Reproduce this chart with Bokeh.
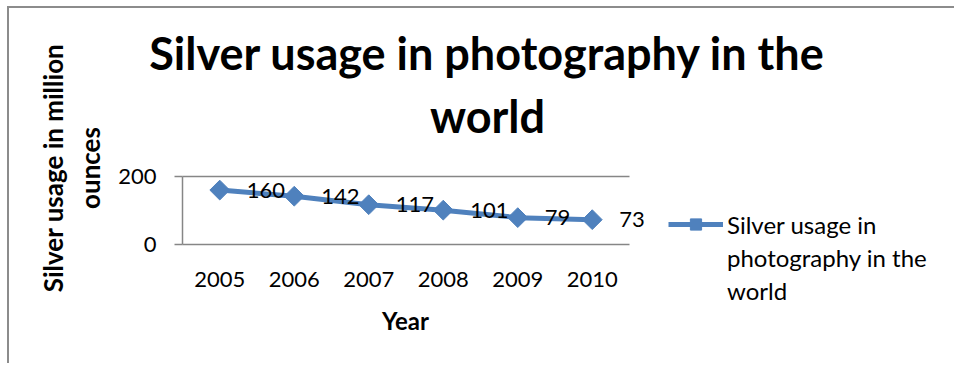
from bokeh.plotting import figure
from bokeh.models import (ColumnDataSource, Range1d, FixedTicker, LinearAxis,
                          LabelSet, Label, Legend, LegendItem)
from bokeh.core.properties import value
from bokeh.embed import file_html
from bokeh.resources import INLINE
import math

# Data: world silver demand for photography, million ounces
years = [2005, 2006, 2007, 2008, 2009, 2010]
usage = [160, 142, 117, 101, 79, 73]
y_ticks = [0, 200]

series_lines = ["Silver usage in", "photography in the", "world"]
title_text = "Silver usage in photography in the\nworld"
y_title = "Silver usage in million\nounces"
x_title = "Year"

BLUE = "#4F81BD"
GREY = "#868686"
FONT = "Lato"

# Canvas geometry (px): the whole canvas is the drawing frame; the plot
# box is drawn by bounded axes placed at fixed data locations.
W, H = 947, 357
BOX_L, BOX_R, BOX_T, BOX_B = 173, 620, 168, 236   # plot box inside the canvas
x_lo, x_hi = years[0] - 0.5, years[-1] + 0.5
y_lo, y_hi = 0, 200
x_per_px = (x_hi - x_lo) / (BOX_R - BOX_L)
y_per_px = (y_hi - y_lo) / (BOX_B - BOX_T)

p = figure(
    x_range=Range1d(x_lo - BOX_L * x_per_px, x_hi + (W - BOX_R) * x_per_px),
    y_range=Range1d(y_lo - (H - BOX_B) * y_per_px, y_hi + BOX_T * y_per_px),
    width=W, height=H,
    output_backend="svg", toolbar_location=None,
    min_border=0, min_border_left=0, min_border_right=0,
    min_border_top=0, min_border_bottom=0,
    styles={"margin-left": "7px", "margin-top": "6px",
            "border-left": "2px solid #8c8c8c",
            "border-top": "2px solid #8c8c8c"},
)
p.outline_line_color = None
p.title.visible = False
p.xgrid.grid_line_color = None
p.ygrid.grid_line_color = None

source = ColumnDataSource(dict(year=years, usage=usage,
                               label=[str(v) for v in usage]))
line = p.line("year", "usage", source=source, line_color=BLUE, line_width=5)
pts = p.scatter("year", "usage", source=source, marker="square", angle=math.pi / 4,
                size=14, fill_color=BLUE, line_color=BLUE)

# Value labels beside each point
p.add_layout(LabelSet(x="year", y="usage", text="label", source=source,
                      x_offset=27, y_offset=0, text_baseline="middle",
                      text_font=value(FONT), text_font_size=value("22px"),
                      text_color="black"))

# Value axis at the left edge of the plot box
p.yaxis.fixed_location = x_lo
p.yaxis.bounds = (y_lo, y_hi)
p.yaxis.ticker = FixedTicker(ticks=y_ticks)
p.yaxis.major_tick_out = 8
p.yaxis.major_tick_in = 0
p.yaxis.minor_tick_line_color = None
p.yaxis.major_label_standoff = 18
p.yaxis.axis_line_color = GREY
p.yaxis.axis_line_width = 1.5
p.yaxis.major_tick_line_color = GREY
p.yaxis.major_tick_line_width = 1.5
p.yaxis.major_label_text_font = FONT
p.yaxis.major_label_text_font_size = "22px"
p.yaxis.major_label_text_color = "black"

# Category axis along the zero line
p.xaxis.fixed_location = y_lo
p.xaxis.bounds = (x_lo, x_hi)
p.xaxis.ticker = FixedTicker(ticks=years)
p.xaxis.major_tick_out = 0
p.xaxis.major_tick_in = 0
p.xaxis.minor_tick_line_color = None
p.xaxis.axis_line_color = GREY
p.xaxis.axis_line_width = 1.5
p.xaxis.major_label_standoff = 27
p.xaxis.major_label_text_font = FONT
p.xaxis.major_label_text_font_size = "22px"
p.xaxis.major_label_text_color = "black"

# Top edge of the plot box, at the 200 level
top = LinearAxis(fixed_location=y_hi, bounds=(x_lo, x_hi),
                 ticker=FixedTicker(ticks=[]),
                 major_tick_line_color=None, minor_tick_line_color=None,
                 axis_line_color=GREY, axis_line_width=1.5)
p.add_layout(top, "above")

# Chart title
p.add_layout(Label(x=478, y=340, x_units="screen", y_units="screen",
                   text=title_text, text_align="center", text_baseline="top",
                   text_font=FONT, text_font_style="bold", text_font_size="45px",
                   text_line_height=1.17, text_color="black"))

# Axis titles
p.add_layout(Label(x=62, y=197.5, x_units="screen", y_units="screen",
                   angle=math.pi / 2, text=y_title, text_align="center",
                   text_baseline="middle", text_font=FONT, text_font_style="bold",
                   text_font_size="26px", text_line_height=1.15, text_color="black"))
p.add_layout(Label(x=396, y=45, x_units="screen", y_units="screen",
                   text=x_title, text_align="center", text_baseline="middle",
                   text_font=FONT, text_font_style="bold", text_font_size="24px",
                   text_color="black"))

# Legend: series name wrapped over three rows, glyph beside the first row
items = [LegendItem(label=series_lines[0], renderers=[line, pts])]
items += [LegendItem(label=t, renderers=[]) for t in series_lines[1:]]
legend = Legend(items=items,
                location=(659, 60.5), padding=0, margin=0, spacing=4,
                glyph_width=55, glyph_height=28, label_standoff=4,
                border_line_color=None, background_fill_alpha=0,
                label_text_font=FONT, label_text_font_size="24px",
                label_text_color="black")
p.add_layout(legend, "center")

open("out.html", "w").write(file_html(p, INLINE))
